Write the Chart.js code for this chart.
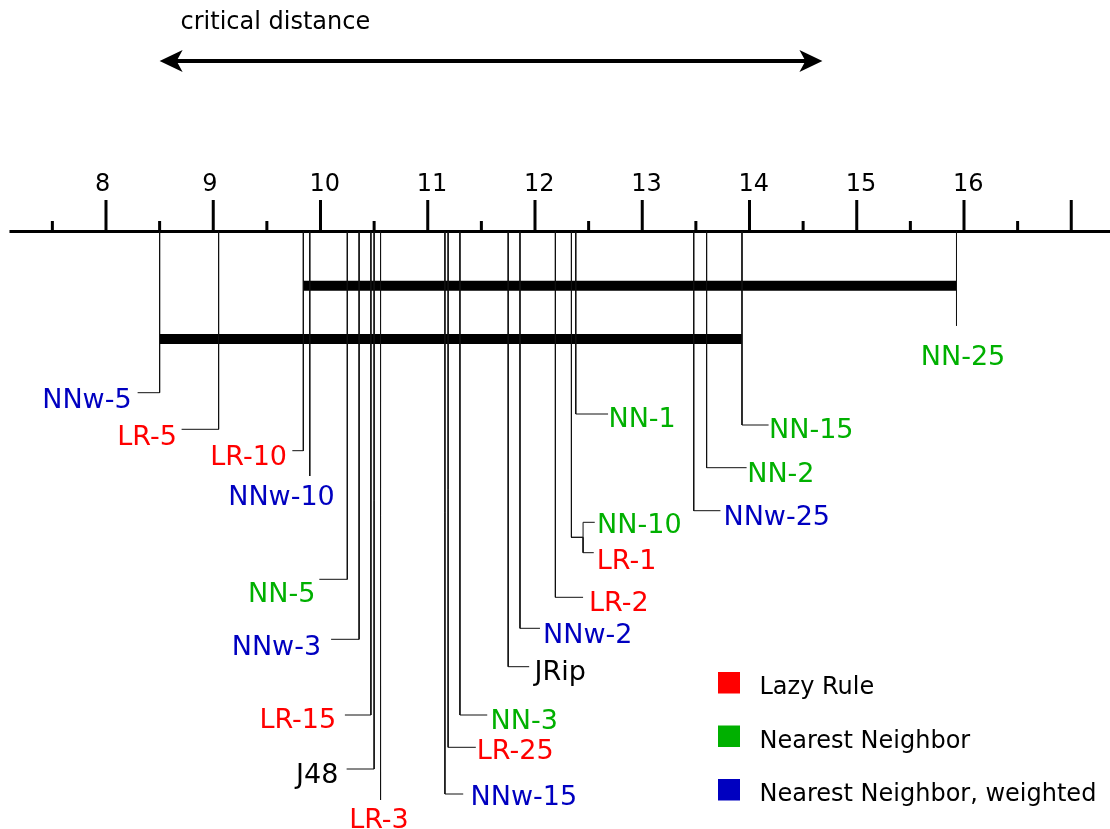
<!DOCTYPE html>
<html>
<head>
<meta charset="utf-8">
<script src="https://cdn.jsdelivr.net/npm/chart.js@4.4.1/dist/chart.umd.min.js"></script>
<style>
  body { margin: 0; background: #fff; }
  #wrap { width: 1110px; height: 829px; }
</style>
</head>
<body>
<div id="wrap"><canvas id="myChart" width="1110" height="829"></canvas></div>
<script>
// average ranks
var methods = ['NNw-5', 'LR-5', 'LR-10', 'NNw-10', 'NN-5', 'NNw-3', 'LR-15', 'J48', 'LR-3', 'NNw-15', 'LR-25',
               'NN-3', 'JRip', 'NNw-2', 'LR-2', 'LR-1', 'NN-10', 'NN-1', 'NNw-25', 'NN-2', 'NN-15', 'NN-25'];
var ranks = [8.50, 9.05, 9.84, 9.90, 10.25, 10.36, 10.47, 10.50, 10.56, 11.16, 11.19,
             11.30, 11.75, 11.86, 12.19, 12.34, 12.34, 12.38, 13.48, 13.60, 13.93, 15.93];
var groupKeys = ['LR', 'NN', 'NNw'];
var groupNames = ['Lazy Rule', 'Nearest Neighbor', 'Nearest Neighbor, weighted'];
var majorTicks = [8, 9, 10, 11, 12, 13, 14, 15, 16, 17];
var tickLabels = ['8', '9', '10', '11', '12', '13', '14', '15', '16', ''];
var minorTicks = [7.5, 8.5, 9.5, 10.5, 11.5, 12.5, 13.5, 14.5, 15.5, 16.5];
// groups of methods that are not significantly different (first, last)
var cliques = [['LR-10', 'NN-25'], ['NNw-5', 'NN-15']];
var criticalDistance = 6.18;
var cdStart = 8.5;

// ---- layout (pixels) ----
var W = 1110, H = 829;
var X_MIN = 7.0117, X_MAX = 17.3613;
var pxToVal = (X_MAX - X_MIN) / W;
var AXIS_Y = 231.5, AXIS_START = 7.1;
var cliqueY = [285.7, 339];
var ARROW_Y = 61;
var LABEL_SIZE = 27;
var groupColors = {'LR': '#ff0000', 'NN': '#00b000', 'NNw': '#0000c0', 'other': '#000000'};

// per label: stub y, stub dx, text dx (ink edge), text centre y, align, optional knee [y, dx]
var labelLayout = {
    'NNw-5':  {y: 392.7, dx: -22,   tx: -30,   ty: 398.3, align: 'right'},
    'LR-5':   {y: 429.3, dx: -37,   tx: -43.7, ty: 435,   align: 'right'},
    'LR-10':  {y: 450.7, dx: -11,   tx: -18.3, ty: 455,   align: 'right'},
    'NNw-10': {y: 476,   dx: 0,     tx: -28.3, ty: 495,   align: 'center'},
    'NN-5':   {y: 579.3, dx: -28,   tx: -34,   ty: 591.7, align: 'right'},
    'NNw-3':  {y: 639.3, dx: -28,   tx: -40,   ty: 645,   align: 'right'},
    'LR-15':  {y: 715,   dx: -26,   tx: -36.7, ty: 717.8, align: 'right'},
    'J48':    {y: 769,   dx: -27.5, tx: -37.8, ty: 773.3, align: 'right'},
    'LR-3':   {y: 800,   dx: 0,     tx: -1.6,  ty: 818,   align: 'center'},
    'NNw-15': {y: 794,   dx: 18.3,  tx: 27.7,  ty: 794.7, align: 'left'},
    'LR-25':  {y: 747.3, dx: 27.7,  tx: 30.7,  ty: 748.8, align: 'left'},
    'NN-3':   {y: 715,   dx: 27.3,  tx: 32.7,  ty: 718.8, align: 'left'},
    'JRip':   {y: 666.7, dx: 21,    tx: 28.4,  ty: 670,   align: 'left'},
    'NNw-2':  {y: 628.3, dx: 20,    tx: 25,    ty: 633,   align: 'left'},
    'LR-2':   {y: 597.3, dx: 27.7,  tx: 35.7,  ty: 600.7, align: 'left'},
    'LR-1':   {y: 552.7, dx: 22.3,  tx: 27.3,  ty: 558.8, align: 'left', knee: [537.3, 11.6]},
    'NN-10':  {y: 522.3, dx: 23.3,  tx: 27.6,  ty: 523,   align: 'left', knee: [537.3, 11.6]},
    'NN-1':   {y: 414,   dx: 32.3,  tx: 34.7,  ty: 417,   align: 'left'},
    'NNw-25': {y: 510.7, dx: 26.7,  tx: 31.7,  ty: 515,   align: 'left'},
    'NN-2':   {y: 467.7, dx: 40,    tx: 42.6,  ty: 472.5, align: 'left'},
    'NN-15':  {y: 425,   dx: 26.6,  tx: 29,    ty: 428,   align: 'left'},
    'NN-25':  {y: 325.7, dx: 0,     tx: 6.5,   ty: 355,   align: 'center'}
};

function groupOf(name) {
    var g = name.split('-')[0];
    return groupKeys.indexOf(g) >= 0 ? g : 'other';
}

function seg(points, width) {
    return {
        data: points, showLine: true, pointRadius: 0, borderWidth: width,
        borderColor: '#000', borderCapStyle: 'butt', tension: 0, fill: false
    };
}

var datasets = [];

// leader lines
methods.forEach(function (name, i) {
    var L = labelLayout[name];
    var r = ranks[i];
    var pts = [{x: r, y: AXIS_Y}];
    if (L.knee) {
        var kx = r + L.knee[1] * pxToVal;
        pts.push({x: r, y: L.knee[0]}, {x: kx, y: L.knee[0]}, {x: kx, y: L.y});
    } else {
        pts.push({x: r, y: L.y});
    }
    if (L.dx !== 0) pts.push({x: r + L.dx * pxToVal, y: L.y});
    var ds = seg(pts, 1);
    ds.borderColor = '#111';
    datasets.push(ds);
});

// cliques
cliques.forEach(function (c, k) {
    var a = ranks[methods.indexOf(c[0])], b = ranks[methods.indexOf(c[1])];
    datasets.push(seg([{x: a, y: cliqueY[k]}, {x: b, y: cliqueY[k]}], 10));
});

// axis and ticks
datasets.push(seg([{x: AXIS_START, y: AXIS_Y}, {x: X_MAX, y: AXIS_Y}], 3));
majorTicks.forEach(function (v) {
    datasets.push(seg([{x: v, y: 200}, {x: v, y: AXIS_Y}], 3));
});
minorTicks.forEach(function (v) {
    datasets.push(seg([{x: v, y: 221}, {x: v, y: AXIS_Y}], 3));
});

// critical distance shaft (heads drawn by plugin)
var headPx = 16;
datasets.push(seg([{x: cdStart + headPx * pxToVal, y: ARROW_Y},
                   {x: cdStart + criticalDistance - headPx * pxToVal, y: ARROW_Y}], 4));

var textPlugin = {
    id: 'cdText',
    afterDatasetsDraw: function (chart) {
        var ctx = chart.ctx;
        var xs = chart.scales.x, ys = chart.scales.y;
        ctx.save();
        ctx.textBaseline = 'alphabetic';

        // arrow heads
        ctx.fillStyle = '#000';
        [[cdStart, 1], [cdStart + criticalDistance, -1]].forEach(function (h) {
            var px = xs.getPixelForValue(h[0]), py = ys.getPixelForValue(ARROW_Y), d = h[1];
            ctx.beginPath();
            ctx.moveTo(px, py);
            ctx.lineTo(px + d * 23, py - 11);
            ctx.lineTo(px + d * 17, py);
            ctx.lineTo(px + d * 23, py + 11);
            ctx.closePath();
            ctx.fill();
        });

        ctx.font = '24px "DejaVu Sans"';
        ctx.textAlign = 'left';
        ctx.fillText('critical distance', 180.5, 29.3);

        // tick labels (left-aligned a little before each tick, as in the original)
        majorTicks.forEach(function (v, i) {
            ctx.fillText(tickLabels[i], xs.getPixelForValue(v) - 11, 190.7);
        });

        // method labels
        ctx.font = LABEL_SIZE + 'px "DejaVu Sans"';
        methods.forEach(function (name, i) {
            var L = labelLayout[name];
            var x = xs.getPixelForValue(ranks[i]) + L.tx;
            if (L.align === 'left') x -= 2;
            if (L.align === 'right') x += 2;
            ctx.fillStyle = groupColors[groupOf(name)];
            ctx.textAlign = L.align;
            ctx.fillText(name, x, L.ty + 0.3645 * LABEL_SIZE);
        });

        // legend
        ctx.font = '24px "DejaVu Sans"';
        ctx.textAlign = 'left';
        groupKeys.forEach(function (g, i) {
            var top = 672 + i * 53.5;
            ctx.fillStyle = groupColors[g];
            ctx.fillRect(718, top, 22, 21.5);
            ctx.fillStyle = '#000';
            ctx.fillText(groupNames[i], 759.5, top + 13.5 + 8.75);
        });
        ctx.restore();
    }
};

new Chart(document.getElementById('myChart'), {
    type: 'scatter',
    data: {datasets: datasets},
    options: {
        responsive: false,
        animation: false,
        devicePixelRatio: 1,
        events: [],
        layout: {padding: 0},
        scales: {
            x: {type: 'linear', min: X_MIN, max: X_MAX, display: false},
            y: {type: 'linear', min: 0, max: H, reverse: true, display: false}
        },
        plugins: {
            legend: {display: false},
            tooltip: {enabled: false}
        }
    },
    plugins: [textPlugin]
});
</script>
</body>
</html>
